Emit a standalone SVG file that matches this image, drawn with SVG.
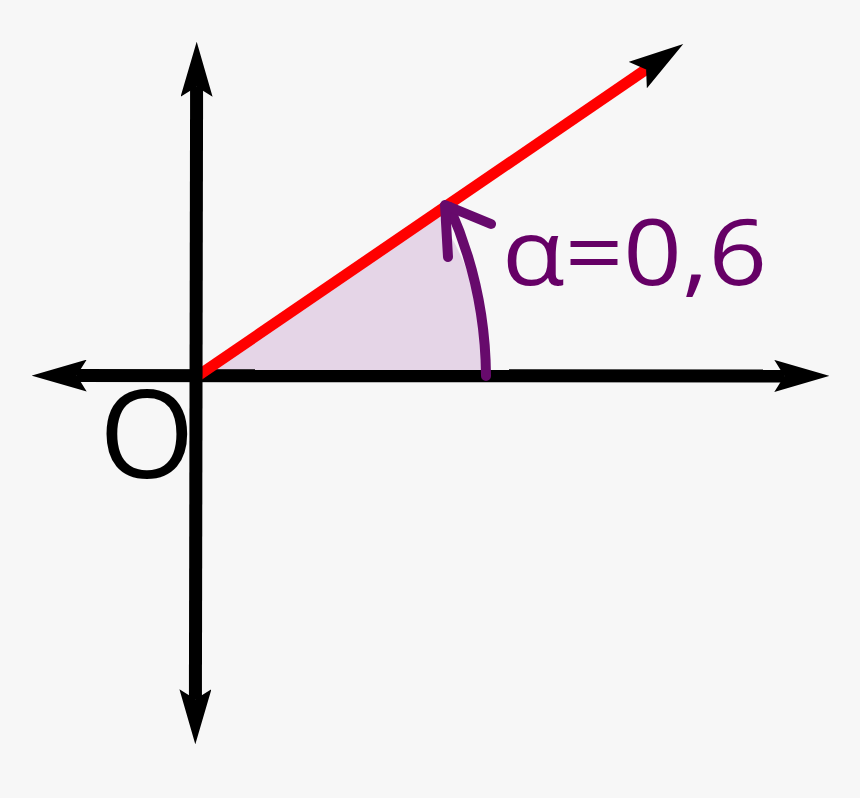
<svg xmlns="http://www.w3.org/2000/svg" width="860" height="798" viewBox="0 0 860 798">
  <style>
    .axis { stroke: #000; stroke-width: 13; fill: none; }
    .ray { stroke: #ff0000; stroke-width: 11; fill: none; }
    .arc { stroke: #670a6c; stroke-width: 10; fill: none; stroke-linecap: round; stroke-linejoin: round; }
    .lbl { font-family: "Open Sans", "DejaVu Sans", sans-serif; }
  </style>
  <defs>
    <marker id="arrow" viewBox="0 -16 55 32" markerWidth="55" markerHeight="32" markerUnits="userSpaceOnUse" refX="10" refY="0" orient="auto-start-reverse">
      <path d="M55,0 L0,-16 L10,0 L0,16 Z" fill="#000"/>
    </marker>
  </defs>
  <rect width="860" height="798" fill="#f7f7f7"/>
  <g id="angle-fill">
    <path d="M200,375.5 L487,375.5 A287,287 0 0 0 436.9,213.5 Z" fill="#e5d5e7"/>
  </g>
  <g id="connectors">
    <line id="x-axis" class="axis" x1="76.7" y1="375.6" x2="784.3" y2="375.9" marker-start="url(#arrow)" marker-end="url(#arrow)"/>
    <line id="ray" class="ray" x1="199" y1="375" x2="646.1" y2="69.4" marker-end="url(#arrow)"/>
    <line id="y-axis" class="axis" x1="196.6" y1="86.7" x2="195.4" y2="699.3" marker-start="url(#arrow)" marker-end="url(#arrow)"/>
  </g>
  <g id="angle-arc">
    <path class="arc" d="M486,376 A424,424 0 0 0 449.5,207"/>
    <path class="arc" d="M448,257 L445,205 L491,224"/>
  </g>
  <g id="label-alpha">
    <text class="lbl" transform="translate(502,285) scale(1.115,1)" x="0" y="0" font-size="92" fill="#660066">α=0,6</text>
  </g>
  <g id="label-origin">
    <text class="lbl" x="99" y="478" font-size="123" fill="#000">O</text>
  </g>
</svg>
